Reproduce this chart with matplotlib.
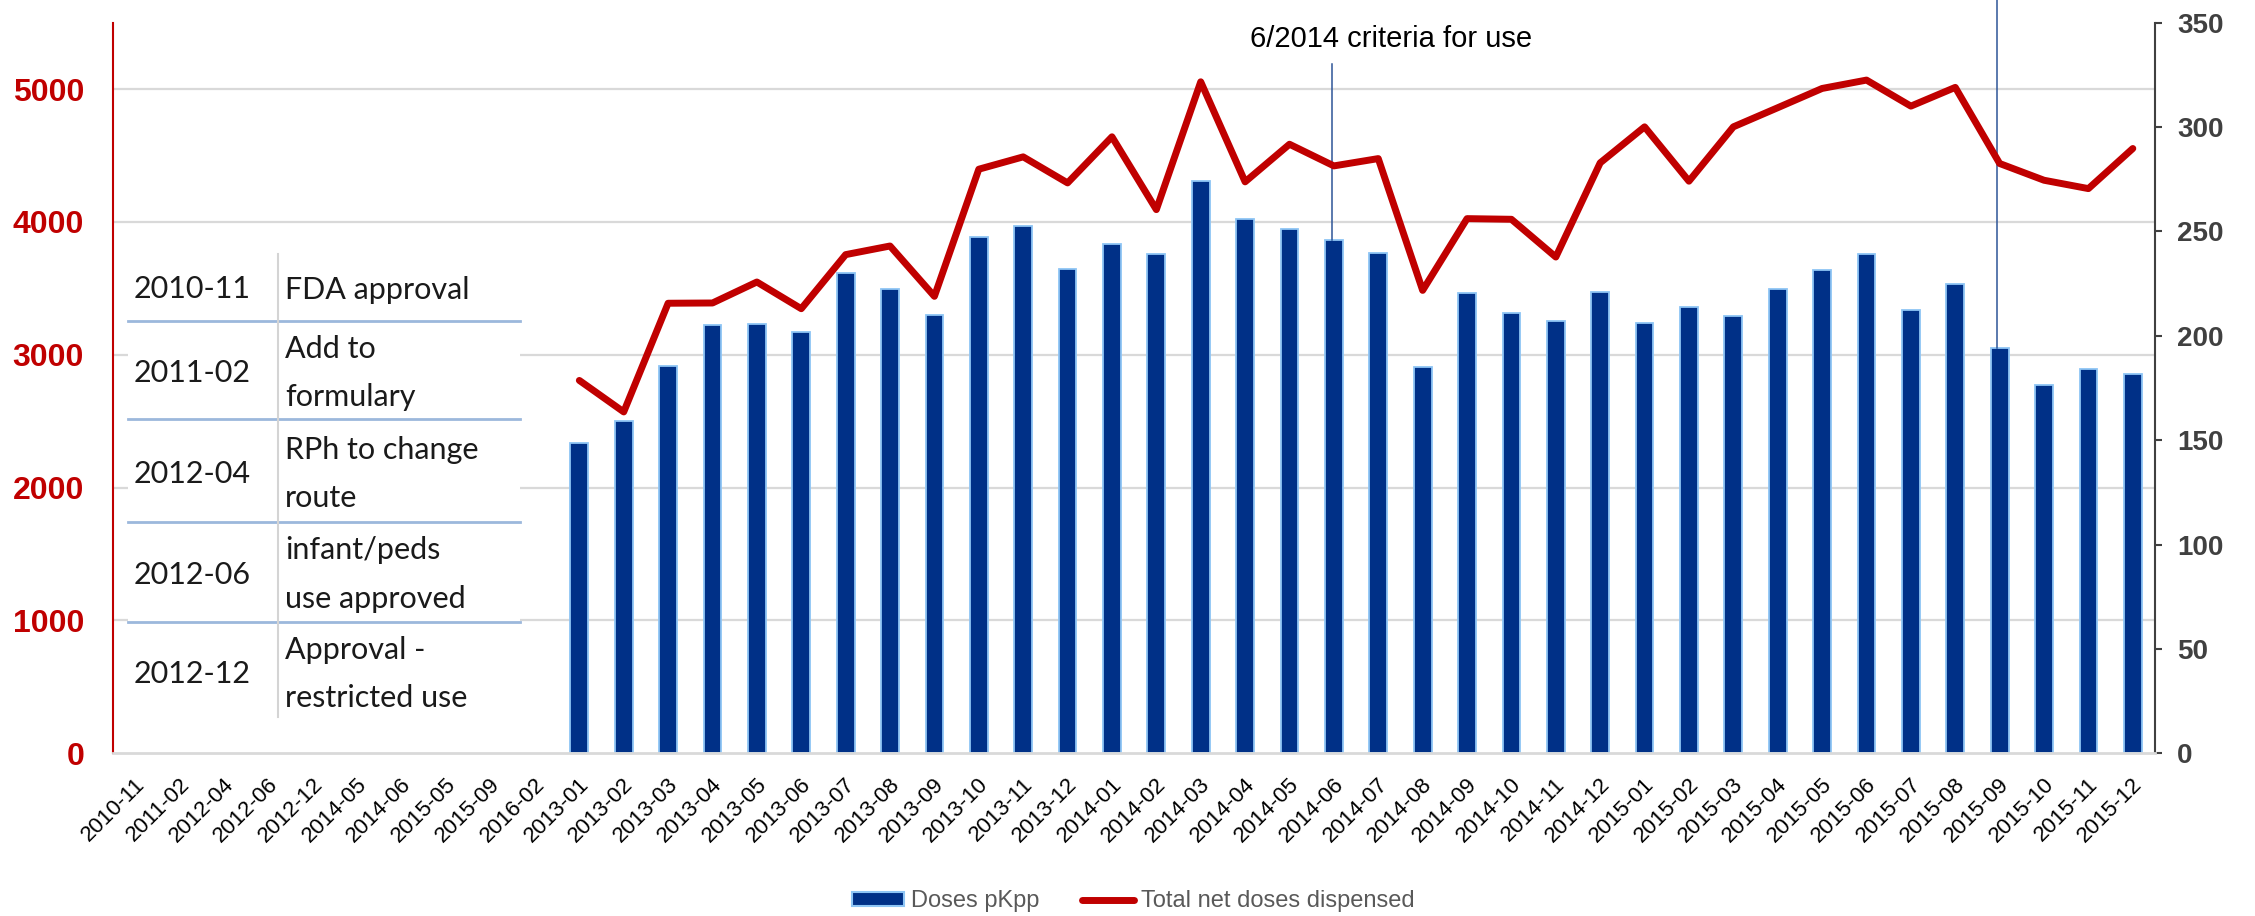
import matplotlib

matplotlib.use("Agg")
import matplotlib.pyplot as plt
import matplotlib.transforms as mtransforms
import numpy as np
from matplotlib.lines import Line2D
from matplotlib.patches import Patch, Rectangle

plt.rcParams["font.family"] = ["Liberation Sans", "DejaVu Sans"]

# leading event months on the category axis (no data)
EVENT_LABELS = ["2010-11", "2011-02", "2012-04", "2012-06", "2012-12",
                "2014-05", "2014-06", "2015-05", "2015-09", "2016-02"]
MONTHS = ["2013-01", "2013-02", "2013-03", "2013-04", "2013-05", "2013-06",
          "2013-07", "2013-08", "2013-09", "2013-10", "2013-11", "2013-12",
          "2014-01", "2014-02", "2014-03", "2014-04", "2014-05", "2014-06",
          "2014-07", "2014-08", "2014-09", "2014-10", "2014-11", "2014-12",
          "2015-01", "2015-02", "2015-03", "2015-04", "2015-05", "2015-06",
          "2015-07", "2015-08", "2015-09", "2015-10", "2015-11", "2015-12"]

# right axis (bars)
DOSES_PKPP = [148.8, 159.2, 185.5, 205.0, 205.6, 201.6, 229.9, 222.3, 210.0, 247.1, 252.4, 231.8,
              243.9, 239.0, 274.0, 255.8, 251.0, 246.0, 239.9, 184.9, 220.4, 210.8, 207.0, 221.2,
              206.0, 213.7, 209.6, 222.2, 231.3, 239.0, 212.6, 224.7, 194.1, 176.5, 184.3, 181.6]
# left axis (line)
TOTAL_NET_DOSES = [2807, 2570, 3388, 3390, 3548, 3347, 3754, 3819, 3440, 4397, 4490, 4294,
                   4641, 4093, 5055, 4302, 4585, 4422, 4477, 3485, 4025, 4020, 3736, 4445,
                   4716, 4307, 4716, 4860, 5005, 5068, 4872, 5013, 4440, 4314, 4251, 4553]

LEFT_TICKS = [0, 1000, 2000, 3000, 4000, 5000]
RIGHT_TICKS = [0, 50, 100, 150, 200, 250, 300, 350]

TABLE_DATES = ["2010-11", "2011-02", "2012-04", "2012-06", "2012-12"]
TABLE_EVENTS = ["FDA approval", "Add to\nformulary", "RPh to change\nroute",
                "infant/peds\nuse approved", "Approval -\nrestricted use"]

CRITERIA_MONTH = "2014-06"
CRITERIA_TEXT = "6/2014 criteria for use"
SECOND_MARK_MONTH = "2015-09"

NAVY = "#003087"
EDGE = "#8ec5f5"
RED = "#c00000"
GRID = "#d9d9d9"

W, H = 2255, 916


def fx(px):
    return px / W


def fy(py):
    return 1 - py / H


fig = plt.figure(figsize=(W / 100, H / 100), dpi=100)
axL = fig.add_axes([fx(113.3), fy(753.3), (2155 - 113.3) / W, (753.3 - 22.7) / H])
axR = axL.twinx()
axL.set_zorder(axR.get_zorder() + 1)
axL.patch.set_visible(False)

labels = EVENT_LABELS + MONTHS
n0 = len(EVENT_LABELS)
x = np.arange(n0, len(labels))

for v in LEFT_TICKS[1:]:
    axR.axhline(v * 350 / 5500, color=GRID, lw=1.6, zorder=0)

axR.bar(x, DOSES_PKPP, width=0.4, color=NAVY, edgecolor=EDGE, linewidth=1.3, zorder=2)
axL.plot(x, TOTAL_NET_DOSES, color=RED, lw=5, solid_capstyle="round", zorder=3)

# leader lines
i1 = MONTHS.index(CRITERIA_MONTH)
i2 = MONTHS.index(SECOND_MARK_MONTH)
axR.plot([n0 + i1 - 0.05] * 2, [DOSES_PKPP[i1], 330.3], color="#2e5597", lw=1.1, zorder=3)
axR.plot([n0 + i2 - 0.05] * 2, [DOSES_PKPP[i2], 370], color="#2e5597", lw=1.1, zorder=3,
         clip_on=False)
axR.text(n0 + i1 - 1.88, 342.3, CRITERIA_TEXT, fontsize=21, ha="left", va="center", color="black")

axL.set_xlim(-0.5, len(labels) - 0.5)
axL.set_ylim(0, 5500)
axR.set_ylim(0, 350)

axL.set_yticks(LEFT_TICKS)
axL.set_yticklabels([str(v) for v in LEFT_TICKS], color=RED, fontweight="bold", fontsize=23)
axL.tick_params(axis="y", length=0, pad=21)
axR.set_yticks(RIGHT_TICKS)
axR.set_yticklabels([str(v) for v in RIGHT_TICKS], color="#404040", fontweight="bold", fontsize=20)
axR.tick_params(axis="y", length=5, width=1.5, color="#404040", pad=11)

axL.set_xticks(np.arange(len(labels)))
axL.set_xticklabels(labels, rotation=45, ha="right", rotation_mode="anchor", fontsize=16)
axL.tick_params(axis="x", length=0, pad=15)
shift = mtransforms.ScaledTranslation(-1 / 100, 0, fig.dpi_scale_trans)
for lab in axL.get_xticklabels():
    lab.set_transform(lab.get_transform() + shift)

for side in ["top", "right"]:
    axL.spines[side].set_visible(False)
axL.spines["left"].set_color(RED)
axL.spines["left"].set_linewidth(1.5)
axL.spines["bottom"].set_color(GRID)
axL.spines["bottom"].set_linewidth(2)
for side in ["top", "left", "bottom"]:
    axR.spines[side].set_visible(False)
axR.spines["right"].set_color("#404040")
axR.spines["right"].set_linewidth(1.5)

# event table
fig.add_artist(Rectangle((fx(128), fy(717)), (520 - 128) / W, (717 - 253) / H,
                         transform=fig.transFigure, facecolor="white", edgecolor="none", zorder=4))
for ly in [321, 418.7, 522, 621.5]:
    fig.add_artist(Line2D([fx(128.2), fx(519.7)], [fy(ly), fy(ly)], transform=fig.transFigure,
                          color="#9cb8dc", lw=2, zorder=5))
fig.add_artist(Line2D([fx(278.2), fx(278.2)], [fy(253.5), fy(716.6)], transform=fig.transFigure,
                      color="#d4d4d4", lw=1.5, zorder=5))
row_centers = [289.5, 372.8, 473.7, 574.6, 674]
for date, event, cy in zip(TABLE_DATES, TABLE_EVENTS, row_centers):
    fig.text(fx(133.2), fy(cy), date, fontsize=22, family="Lato", va="center", color="#1a1a1a", zorder=6)
    parts = event.split("\n")
    offs = [0] if len(parts) == 1 else [-24.2, 24.2]
    for part, off in zip(parts, offs):
        fig.text(fx(285.1), fy(cy + off), part, fontsize=22, family="Lato", va="center",
                 color="#1a1a1a", zorder=6)

handles = [Patch(facecolor=NAVY, edgecolor=EDGE, linewidth=1.5),
           Line2D([], [], color=RED, lw=5, solid_capstyle="round")]
fig.legend(handles, ["Doses pKpp", "Total net doses dispensed"], loc="center",
           bbox_to_anchor=(0.5026, 0.016), ncol=2, frameon=False, fontsize=17,
           labelcolor="#595959", handlelength=2.2, handleheight=0.5, handletextpad=0.3,
           columnspacing=1.8)

fig.savefig("out.png", dpi=100, facecolor="white")
